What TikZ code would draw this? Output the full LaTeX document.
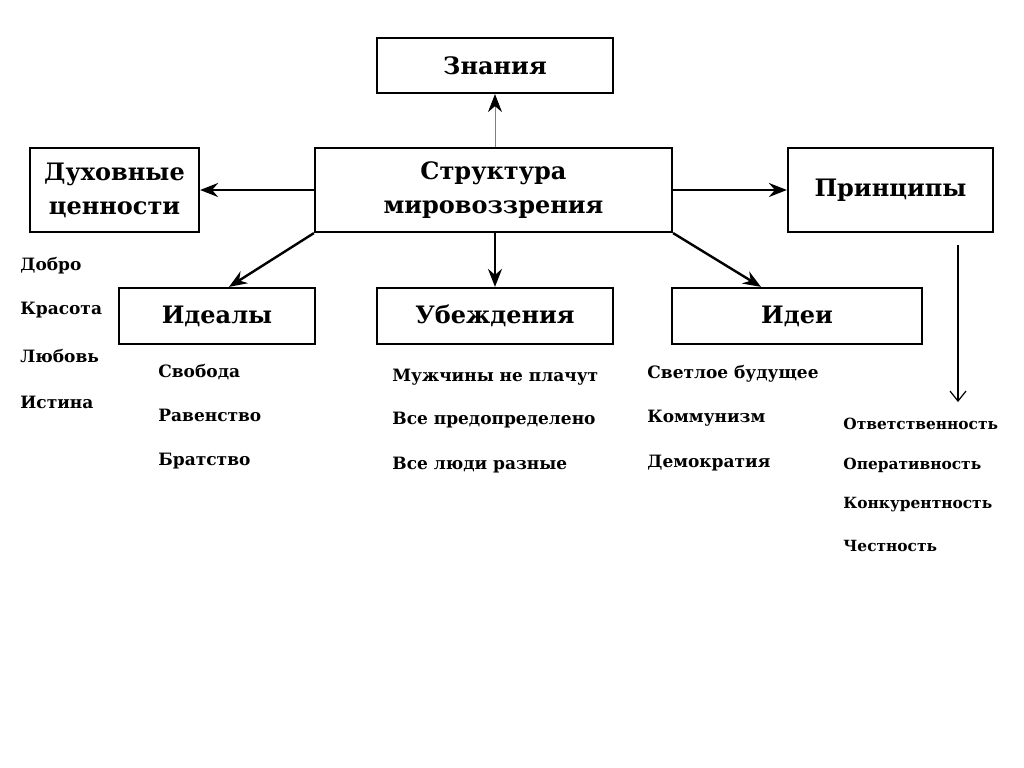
\documentclass[tikz,border=0pt]{standalone}
\usepackage{fontspec}
\setmainfont{DejaVu Serif}
\usetikzlibrary{arrows.meta}
\usetikzlibrary{calc}

\begin{document}
\begin{tikzpicture}[x=0.5pt,y=-0.5pt,
  box/.style={draw,line width=1.1pt,inner sep=0pt,align=center,
    font=\bfseries\fontsize{12}{17}\selectfont},
  item/.style={anchor=west,inner sep=0pt,font=\bfseries\fontsize{8.5}{10}\selectfont},
  smallitem/.style={item,font=\bfseries\fontsize{7.7}{10}\selectfont},
  link/.style={-{Stealth[length=9pt,width=7pt,inset=3pt]},line width=1.2pt},
  thinlink/.style={-{Stealth[length=9pt,width=7pt,inset=3pt,black]},line width=0.4pt,draw=gray}]
  \useasboundingbox [fill=white] (0,0) rectangle (1024,767);

  % boxes
  \node [box,minimum width=118pt,minimum height=27.5pt] (zn) at (495,65.5) {Знания};
  \node [box,minimum width=178.5pt,minimum height=42pt] (str) at (493.5,190) {Структура\\мировоззрения};
  \node [box,minimum width=84.5pt,minimum height=42pt] (dukh) at (114.5,190) {Духовные\\ценности};
  \node [box,minimum width=102.5pt,minimum height=42pt] (princ) at (890.5,190) {Принципы};
  \node [box,minimum width=98pt,minimum height=28pt] (ideal) at (217,316) {Идеалы};
  \node [box,minimum width=118pt,minimum height=28pt] (ubezh) at (495,316) {Убеждения};
  \node [box,minimum width=125pt,minimum height=28pt] (idei) at (797,316) {Идеи};

  % arrows
  \draw [thinlink] (str.north -| zn.south) -- (zn.south);
  \draw [link] (str.west) -- (dukh.east);
  \draw [link] (str.east) -- (princ.west);
  \draw [link] (str.south west) -- ([xshift=6pt]ideal.north);
  \draw [link] (str.south -| ubezh.north) -- (ubezh.north);
  \draw [link] (str.south east) -- ([xshift=-18pt]idei.north);

  \coordinate (pa) at (958,245);
  \coordinate (pb) at (958,402);
  \draw [-{Straight Barb[length=5pt,width=8pt]},line width=0.6pt] (pa) -- (pb);

  % lists
  \node [item] (d1) at (20,266) {Добро};
  \node [item] (d2) at (20,310) {Красота};
  \node [item] (d3) at (20,356) {Любовь};
  \node [item] (d4) at (20,402) {Истина};

  \node [item] (i1) at (158,372) {Свобода};
  \node [item] (i2) at (158,415) {Равенство};
  \node [item] (i3) at (158,461) {Братство};

  \node [item] (u1) at (392,377) {Мужчины не плачут};
  \node [item] (u2) at (392,420) {Все предопределено};
  \node [item] (u3) at (392,465) {Все люди разные};

  \node [item] (e1) at (647,374) {Светлое будущее};
  \node [item] (e2) at (647,418) {Коммунизм};
  \node [item] (e3) at (647,463) {Демократия};

  \node [smallitem] (p1) at (843,424) {Ответственность};
  \node [smallitem] (p2) at (843,465) {Оперативность};
  \node [smallitem] (p3) at (843,505) {Конкурентность};
  \node [smallitem] (p4) at (843,546) {Честность};
\end{tikzpicture}
\end{document}
